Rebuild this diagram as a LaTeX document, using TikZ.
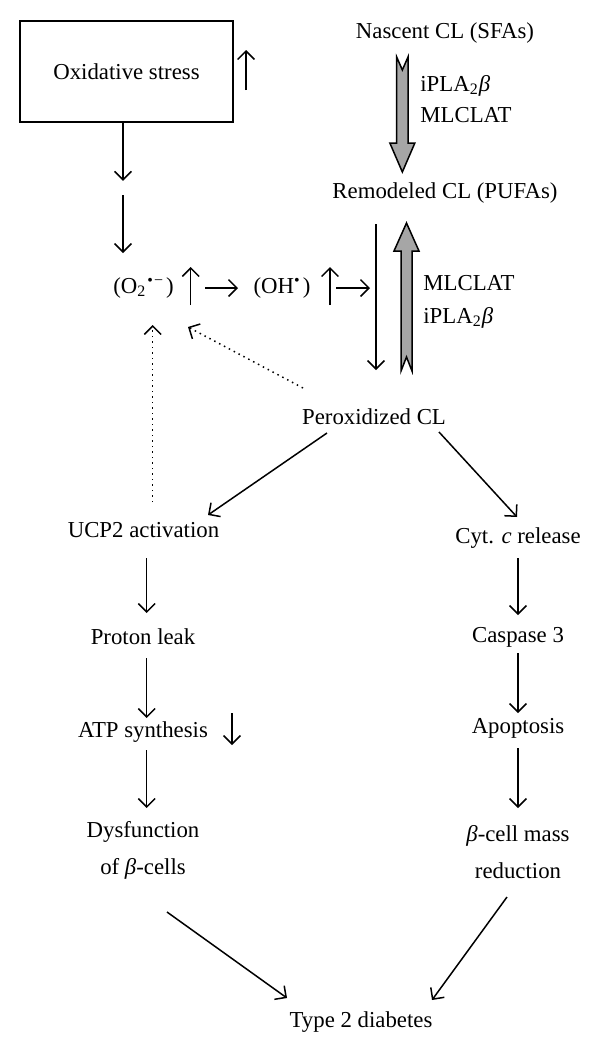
\documentclass[tikz,border=0pt]{standalone}
\usepackage{fontspec}
\setmainfont{Liberation Serif}
\usetikzlibrary{arrows.meta,calc}
\tikzset{
  lbl/.style={font=\fontsize{11.4}{13.5}\selectfont, inner sep=0pt},
  lbl2/.style={font=\fontsize{11.4}{18.5}\selectfont, inner sep=0pt, align=center},
  arr/.style={line width=0.75pt, -{Straight Barb[length=4.2pt,width=8.4pt]}},
  darr/.style={line width=0.75pt, dotted, -{Straight Barb[length=4.2pt,width=8.4pt]}},
  fat/.style={fill=black!35, draw=black, line width=0.75pt, line join=miter},
}
\begin{document}
\begin{tikzpicture}[x=0.5pt,y=-0.5pt]
\useasboundingbox (0,0) rectangle (600,1055);
% nodes
\node[lbl, draw, line width=0.75pt, minimum width=106.5pt, minimum height=50.5pt] (ox) at (126.5,71.5) {Oxidative stress};
\node[lbl] (nas) at (445,33) {Nascent CL (SFAs)};
\node[lbl] (rem) at (445,193) {Remodeled CL (PUFAs)};
\node[lbl, anchor=west] (e1) at (420,86) {iPLA\textsubscript{2}\textit{β}};
\node[lbl, anchor=west] (e2) at (420,115) {MLCLAT};
\node[lbl, anchor=west] (e3) at (423,283) {MLCLAT};
\node[lbl, anchor=west] (e4) at (423,318) {iPLA\textsubscript{2}\textit{β}};
\node[lbl] (o2) at (143.5,288) {(O\textsubscript{2}\kern0.5pt\textsuperscript{•\kern0.5pt−}\kern1pt)};
\node[lbl] (oh) at (282,288) {(OH\textsuperscript{•}\kern1pt)};
\node[lbl] (per) at (374,417) {Peroxidized CL};
\node[lbl] (ucp) at (143.5,530) {UCP2 activation};
\node[lbl] (pro) at (143,637) {Proton leak};
\node[lbl] (atp) at (143,732) {ATP synthesis};
\node[lbl2] (dys) at (143,850.5) {Dysfunction\\of \textit{β}-cells};
\node[lbl] (cyt) at (518,538) {Cyt. \textit{c} release};
\node[lbl] (cas) at (518,637) {Caspase 3};
\node[lbl] (apo) at (518,728) {Apoptosis};
\node[lbl2] (red) at (518,852.5) {\textit{β}-cell mass\\reduction};
\node[lbl] (t2d) at (361,1022) {Type 2 diabetes};
% fat gray arrows
\draw[fat] (396.7,57) -- (402.35,70) -- (408,57) -- (408,143) -- (414.85,143) -- (402.35,172) -- (389.85,143) -- (396.7,143) -- cycle;
\draw[fat] (401,371) -- (406.5,357) -- (412,371) -- (412,251) -- (419,251) -- (406.5,223) -- (394,251) -- (401,251) -- cycle;
% indicator arrows
\draw[arr] ($(ox.center)+(119.5,18.5)$) -- ($(ox.center)+(119.5,-21.5)$);
\draw[arr] ($(o2.center)+(47.2,17)$) -- ($(o2.center)+(47.2,-21)$);
\draw[arr] ($(oh.center)+(48,17)$) -- ($(oh.center)+(48,-21)$);
\draw[arr] ($(atp.center)+(89,-19)$) -- ($(atp.center)+(89,13)$);
% connectors
\draw[arr] ($(ox.south)+(-3.5,0)$) -- ($(ox.south)+(-3.5,58)$);
\draw[arr] ($(o2.center)+(-20.5,-93)$) -- ($(o2.center)+(-20.5,-35)$);
\draw[arr] ($(o2.center)+(61.5,0)$) -- ($(oh.center)+(-44,0)$);
\draw[arr] ($(oh.center)+(54,0)$) -- ($(oh.center)+(88,0)$);
\draw[arr] ($(rem.center)+(-69,31)$) -- ($(per.center)+(2,-47)$);
\draw[darr] ($(ucp.center)+(9.2,-28)$) -- ($(o2.center)+(9.2,37)$);
\draw[darr] ($(per.center)+(-71,-29)$) -- ($(o2.center)+(44.5,39)$);
\draw[arr] ($(per.center)+(-47,16)$) -- ($(ucp.center)+(64.5,-15)$);
\draw[arr] ($(per.center)+(65,15)$) -- ($(cyt.center)+(-1,-21)$);
\draw[arr] ($(ucp.center)+(3.2,28)$) -- ($(pro.center)+(3.7,-24)$);
\draw[arr] ($(pro.center)+(3.7,21)$) -- ($(atp.center)+(3.7,-14)$);
\draw[arr] ($(atp.center)+(3.7,18)$) -- ($(dys.center)+(3.7,-42.5)$);
\draw[arr] ($(dys.center)+(24,61.5)$) -- ($(t2d.center)+(-74,-24)$);
\draw[arr] ($(red.center)+(-11,44.5)$) -- ($(t2d.center)+(71,-22)$);
\draw[arr] ($(cyt.center)+(0,20)$) -- ($(cas.center)+(0,-22)$);
\draw[arr] ($(cas.center)+(0,16)$) -- ($(apo.center)+(0,-15)$);
\draw[arr] ($(apo.center)+(0,20)$) -- ($(red.center)+(0,-44.5)$);
\end{tikzpicture}
\end{document}
